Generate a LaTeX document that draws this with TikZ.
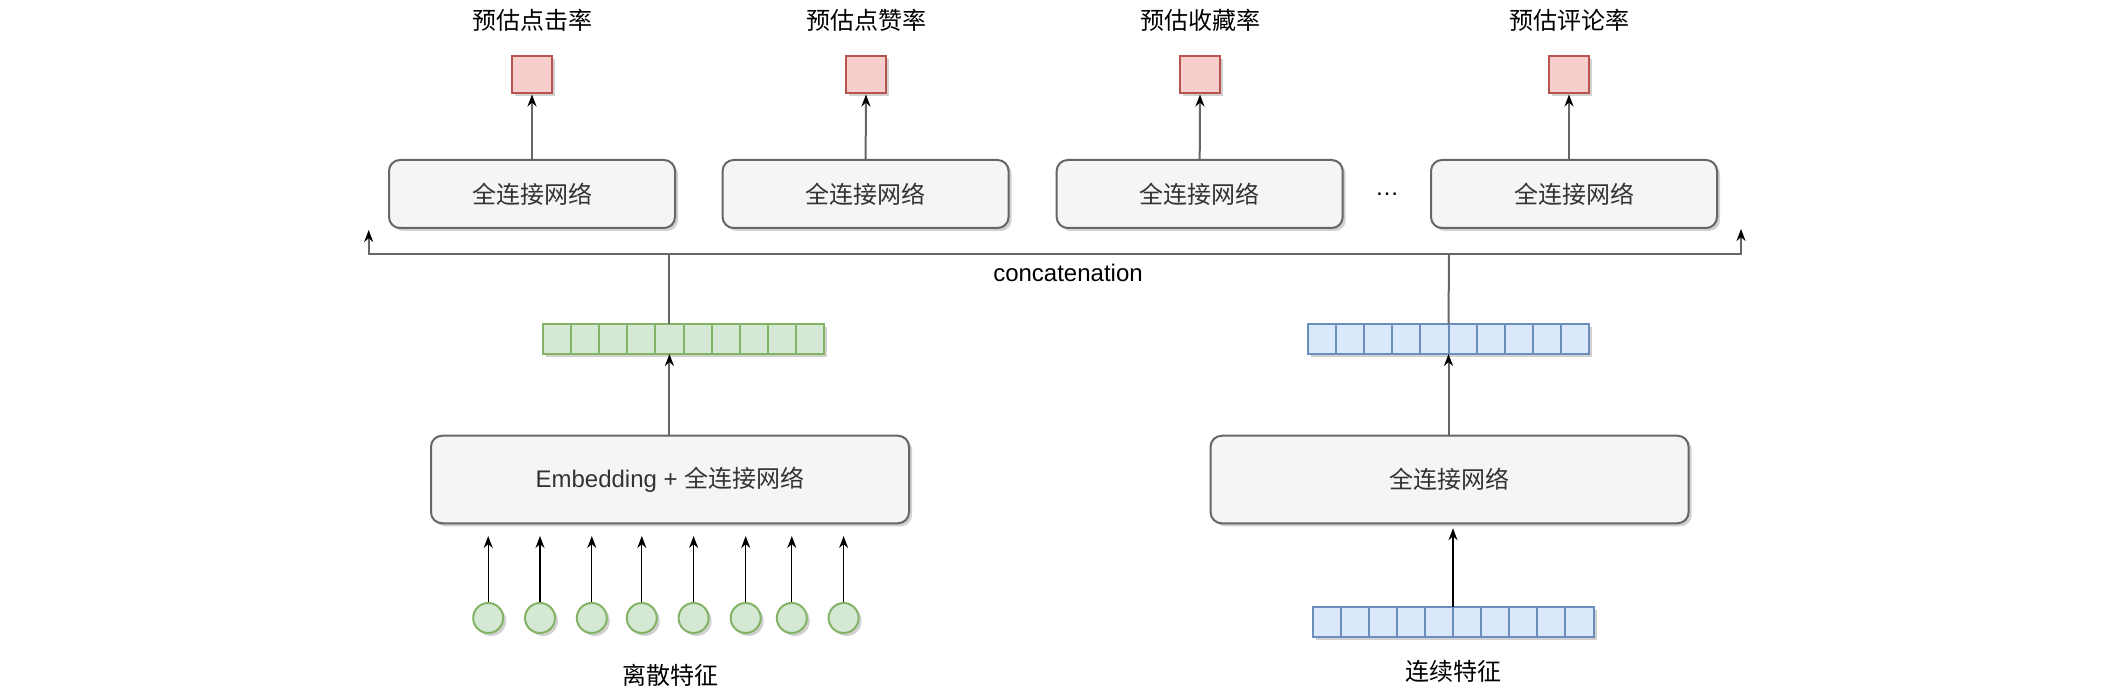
\documentclass[tikz,border=0pt]{standalone}
\usepackage{fontspec}
\setmainfont{Liberation Sans}
\newfontfamily\cjk{Noto Sans CJK SC}
\usetikzlibrary{shadows,arrows.meta,calc}
\definecolor{boxfill}{HTML}{F5F5F5}
\definecolor{boxline}{HTML}{666666}
\definecolor{boxtext}{HTML}{333333}
\definecolor{redfill}{HTML}{F8CECC}
\definecolor{redline}{HTML}{B85450}
\definecolor{greenfill}{HTML}{D5E8D4}
\definecolor{greenline}{HTML}{82B366}
\definecolor{bluefill}{HTML}{DAE8FC}
\definecolor{blueline}{HTML}{6C8EBF}
\definecolor{edgegray}{HTML}{666666}
\begin{document}
\begin{tikzpicture}[x=1pt,y=-1pt,
  shadowed/.style={drop shadow={shadow xshift=3pt,shadow yshift=-3pt,opacity=0.18,fill=black}},
  lbl/.style={font=\cjk\fontsize{24}{28}\selectfont, text=black, inner sep=0pt},
  fcbox/.style={draw=boxline, fill=boxfill, line width=2pt, rounded corners=11pt,
    text=boxtext, font=\fontsize{24}{28}\selectfont, inner sep=0pt, shadowed},
  outsq/.style={draw=redline, fill=redfill, line width=2pt, minimum width=40pt,
    minimum height=37pt, inner sep=0pt, shadowed},
  gcell/.style={draw=greenline, fill=greenfill, line width=2pt, minimum width=28.1pt,
    minimum height=30pt, inner sep=0pt, outer sep=0pt, shadowed},
  bcell/.style={draw=blueline, fill=bluefill, line width=2pt, minimum width=28.1pt,
    minimum height=30pt, inner sep=0pt, outer sep=0pt, shadowed},
  feat/.style={circle, draw=greenline, fill=greenfill, line width=2pt, minimum size=30pt,
    inner sep=0pt, shadowed},
  garrow/.style={draw=edgegray, line width=2pt, -{Stealth[length=12pt,width=9pt,black]}},
  barrow/.style={draw=black, line width=1.1pt, -{Stealth[length=12pt,width=9pt,black]}},
  gline/.style={draw=edgegray, line width=2pt}]
\useasboundingbox (0,0) rectangle (2102,692);

% top labels
\node[lbl] (l1) at (532,20) {预估点击率};
\node[lbl] (l2) at (866,20) {预估点赞率};
\node[lbl] (l3) at (1200,20) {预估收藏率};
\node[lbl] (l4) at (1569,20) {预估评论率};

% output squares
\node[outsq] (s1) at (532,75) {};
\node[outsq] (s2) at (866,75) {};
\node[outsq] (s3) at (1200,75) {};
\node[outsq] (s4) at (1569,75) {};

% task towers
\node[fcbox, minimum width=286pt, minimum height=68pt] (t1) at (532,194) {\cjk 全连接网络};
\node[fcbox, minimum width=286pt, minimum height=68pt] (t2) at (865.6,194) {\cjk 全连接网络};
\node[fcbox, minimum width=286pt, minimum height=68pt] (t3) at (1199.7,194) {\cjk 全连接网络};
\node[fcbox, minimum width=286pt, minimum height=68pt] (t4) at (1574,194) {\cjk 全连接网络};
\node[font=\fontsize{24}{28}\selectfont, text=black, inner sep=0pt] (dots) at (1387,194) {…};

\draw[garrow] (t1.north) -- (s1.south);
\draw[garrow] (t2.north) -- (s2.south);
\draw[garrow] (t3.north) -- (s3.south);
\draw[garrow] (s4.south |- t4.north) -- (s4.south);

% embedding vectors
\foreach \i in {1,...,10} {
  \node[gcell] (g\i) at ({543+28.1*(\i-0.5)},339) {};
  \node[bcell] (b\i) at ({1308+28.1*(\i-0.5)},339) {};
  \node[bcell] (c\i) at ({1312.5+28.1*(\i-0.5)},621.5) {};
}

% bottom boxes
\node[fcbox, minimum width=478pt, minimum height=87.5pt] (emb) at (670,479.5) {Embedding + {\cjk 全连接网络}};
\node[fcbox, minimum width=478pt, minimum height=87.5pt] (dnn) at (1449.6,479.5) {\cjk 全连接网络};

% concatenation
\coordinate (jg) at (668.6,254);
\coordinate (jb) at (1449,254);
\coordinate (tipL) at (368.7,230);
\coordinate (tipR) at (1741,229);
\draw[gline] (g5.north -| jg) -- (jg);
\draw[gline] (b5.north east) -- (jb);
\draw[garrow] (jg) -| (tipL);
\draw[garrow] (jg) -| (tipR);
\node[font=\fontsize{24}{28}\selectfont, text=black, inner sep=0pt] (concat) at (1068,273) {concatenation};

\draw[garrow] (emb.north -| g5) -- (g5.south);
\draw[garrow] (b5.south east |- dnn.north) -- (b5.south east);
\draw[barrow] (c5.north east) -- ($(c5.north east |- dnn.south)+(0,4)$);

% discrete features
\foreach \x [count=\k] in {488.2,540,591.8,641.8,693.6,745.7,791.8,843.6} {
  \node[feat] (f\k) at (\x,618) {};
  \coordinate (ft\k) at (\x,536);
  \draw[barrow] (f\k.north) -- (ft\k);
}

\node[lbl] (ldis) at (670,675) {离散特征};
\node[lbl] (lcon) at (1453,671) {连续特征};
\end{tikzpicture}
\end{document}
